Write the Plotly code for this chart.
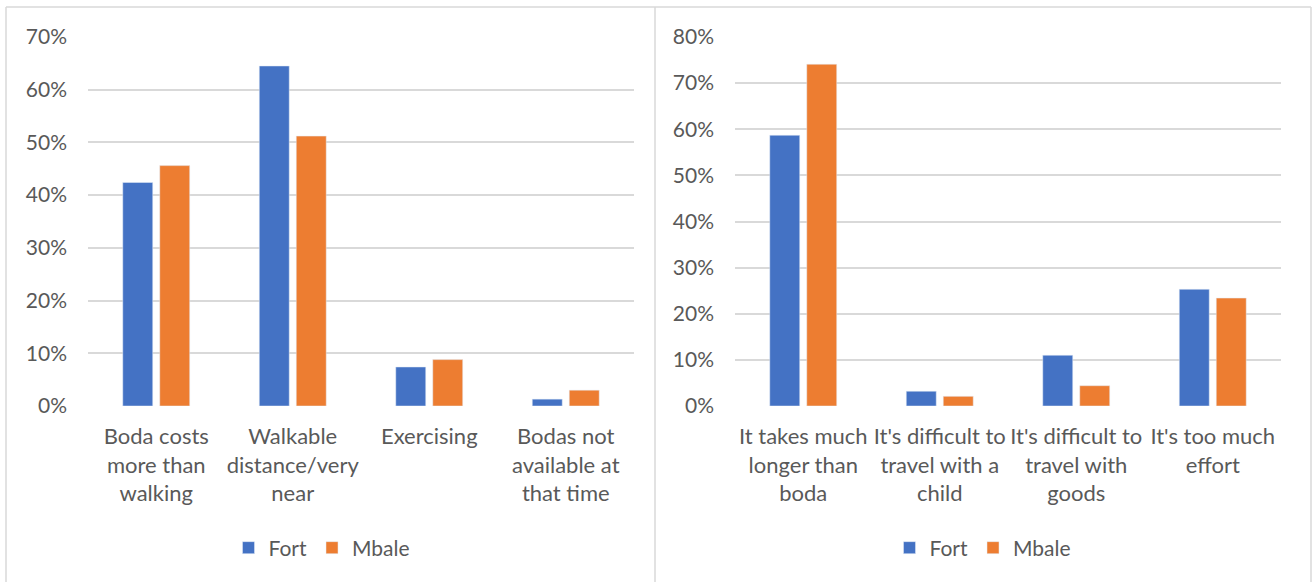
import plotly.graph_objects as go

# Reasons for walking (left) and reasons for not walking (right), by town
reasons_walk = ["Boda costs<br>more than<br>walking", "Walkable<br>distance/very<br>near",
                "Exercising", "Bodas not<br>available at<br>that time"]
walk_fort = [0.424, 0.645, 0.074, 0.013]
walk_mbale = [0.456, 0.512, 0.088, 0.030]

reasons_nowalk = ["It takes much<br>longer than<br>boda", "It's difficult to<br>travel with a<br>child",
                  "It's difficult to<br>travel with<br>goods", "It's too much<br>effort"]
nowalk_fort = [0.587, 0.032, 0.110, 0.253]
nowalk_mbale = [0.741, 0.021, 0.044, 0.234]

series_names = ["Fort", "Mbale"]
BLUE = "#4472C4"
ORANGE = "#ED7D31"
GRID = "#D9D9D9"
TEXT = "#595959"
FONT = "Lato"

W, H = 1312, 582


def px(x):
    return x / W


def py(y):
    return 1 - y / H


fig = go.Figure()

fig.add_trace(go.Bar(x=reasons_walk, y=walk_fort, name=series_names[0], marker_color=BLUE,
                     xaxis="x", yaxis="y", legend="legend"))
fig.add_trace(go.Bar(x=reasons_walk, y=walk_mbale, name=series_names[1], marker_color=ORANGE,
                     xaxis="x", yaxis="y", legend="legend"))
fig.add_trace(go.Bar(x=reasons_nowalk, y=nowalk_fort, name=series_names[0], marker_color=BLUE,
                     xaxis="x2", yaxis="y2", legend="legend2"))
fig.add_trace(go.Bar(x=reasons_nowalk, y=nowalk_mbale, name=series_names[1], marker_color=ORANGE,
                     xaxis="x2", yaxis="y2", legend="legend2"))

y_bottom, y_top = py(406), py(37)

xaxis_common = dict(showgrid=False, zeroline=False, showline=False, ticks="", automargin=False,
                    tickfont=dict(family=FONT, size=22, color=TEXT), ticklabelstandoff=15, tickangle=0)
yaxis_common = dict(showgrid=True, gridcolor=GRID, gridwidth=1.5, zeroline=False, automargin=False,
                    showline=False, tickformat=".0%", dtick=0.1, tick0=0,
                    tickfont=dict(family=FONT, size=21, color=TEXT), ticklabelstandoff=20, ticks="")

legend_common = dict(orientation="h", xanchor="center", yanchor="middle", y=py(548),
                     font=dict(family=FONT, size=21, color=TEXT), bgcolor="rgba(0,0,0,0)",
                     itemwidth=30, tracegroupgap=0)

border = dict(color=GRID, width=1.5)
shapes = [
    dict(type="line", xref="paper", yref="paper", x0=px(6), x1=px(1311), y0=py(7), y1=py(7), line=border),
    dict(type="line", xref="paper", yref="paper", x0=px(6), x1=px(6), y0=py(7), y1=py(582), line=border),
    dict(type="line", xref="paper", yref="paper", x0=px(655), x1=px(655), y0=py(7), y1=py(582), line=border),
    dict(type="line", xref="paper", yref="paper", x0=px(1311), x1=px(1311), y0=py(7), y1=py(582), line=border),
]

fig.update_layout(
    width=W, height=H,
    margin=dict(l=0, r=0, t=0, b=0, pad=0, autoexpand=False),
    paper_bgcolor="white", plot_bgcolor="white",
    barmode="group", bargap=0.458, bargroupgap=0.19,
    font=dict(family=FONT, color=TEXT),
    xaxis=dict(domain=[px(88), px(634)], anchor="y", **xaxis_common),
    yaxis=dict(domain=[y_bottom, y_top], anchor="x", range=[0, 0.7], **yaxis_common),
    xaxis2=dict(domain=[px(735), px(1281)], anchor="y2", **xaxis_common),
    yaxis2=dict(domain=[y_bottom, y_top], anchor="x2", range=[0, 0.8], **yaxis_common),
    legend=dict(x=px(322), **legend_common),
    legend2=dict(x=px(983), **legend_common),
    shapes=shapes,
    showlegend=True,
)

fig.write_html("out.html", config={"displayModeBar": False})
